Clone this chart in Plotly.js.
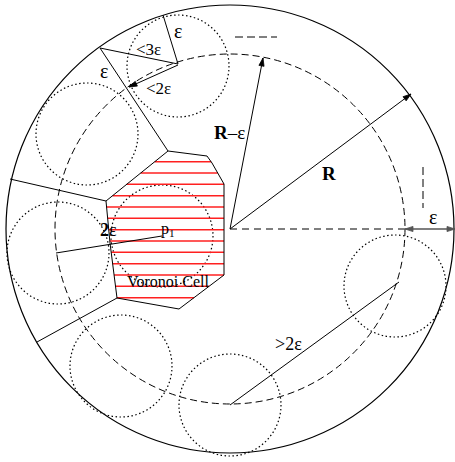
<!DOCTYPE html>
<html>
<head>
<meta charset="utf-8">
<script src="https://cdn.plot.ly/plotly-3.0.1.min.js"></script>
<style>html,body{margin:0;padding:0;background:#fff;}#chart{width:455px;height:462px;}</style>
</head>
<body>
<div id="chart"></div>
<script>
// ---- data (pixel-space diagram coordinates) ----
const center = [230, 229];
const outerR = 224;          // R
const innerR = 175;          // R - eps
const epsR = 51;             // eps discs
const discX = [178, 87, 58, 162, 121, 230, 395];
const discY = [66, 134, 253, 236, 366, 405, 286];
const cellX = [168, 207, 212, 224, 224, 179, 117, 110, 106];
const cellY = [151, 156, 163, 184, 275, 309, 298, 243, 201];
const hatchY = [161.7, 173, 184.3, 195.7, 207, 218.3, 229.7, 241, 252.3, 263.7, 275, 286.3, 297.7];
const edgeX0 = [106, 117, 168, 100, 178, 56, 230];
const edgeY0 = [201, 298, 151, 48, 64, 253, 405];
const edgeX1 = [10, 37, 100, 178, 163, 162, 399];
const edgeY1 = [179, 342, 48, 64, 15, 236, 282];
const arrowTipX = [263, 411, 129];
const arrowTipY = [58, 94, 87];
const arrowTailX = [230, 230, 178];
const arrowTailY = [229, 229, 65];
const shortDashX0 = [235, 423];
const shortDashY0 = [37, 167];
const shortDashX1 = [277, 423];
const shortDashY1 = [37, 208];
const labelText = ['ε', '&lt;3ε', 'ε', '&lt;2ε', '<b>2</b>ε', 'p<sub>1</sub>', 'Voronoi Cell', '<b>R</b>–ε', '<b>R</b>', 'ε', '&gt;2ε'];
const labelX = [178, 148, 103.5, 158.5, 108, 168, 168, 229, 328.5, 432.5, 288];
const labelY = [30.5, 49, 70.5, 88, 229.5, 229, 281, 132.5, 173.5, 217, 343.5];
const labelSize = [20, 17, 20, 17, 18, 16, 16, 19, 19, 20, 18];

const shapes = [];
function arrowHead(tx, ty, fx, fy, color) {
  const dx = tx - fx, dy = ty - fy, L = Math.sqrt(dx*dx + dy*dy);
  const ux = dx / L, uy = dy / L, len = 8, hw = 2.6;
  const bx = tx - ux*len, by = ty - uy*len;
  const p = 'M' + tx + ',' + ty + ' L' + (bx - uy*hw) + ',' + (by + ux*hw) + ' L' + (bx + uy*hw) + ',' + (by - ux*hw) + ' Z';
  shapes.push({type:'path', xref:'x', yref:'y', path:p, line:{color:color, width:0.8}, fillcolor:color});
}
// outer solid circle
shapes.push({type:'circle', xref:'x', yref:'y', x0:center[0]-outerR, x1:center[0]+outerR, y0:center[1]-outerR, y1:center[1]+outerR, line:{color:'#000', width:1.2}});
// dashed R-eps circle
shapes.push({type:'circle', xref:'x', yref:'y', x0:center[0]-innerR, x1:center[0]+innerR, y0:center[1]-innerR, y1:center[1]+innerR, line:{color:'#000', width:1, dash:'7px,4px'}});
// dotted eps discs
for (let i = 0; i < discX.length; i++) {
  shapes.push({type:'circle', xref:'x', yref:'y', x0:discX[i]-epsR, x1:discX[i]+epsR, y0:discY[i]-epsR, y1:discY[i]+epsR, line:{color:'#000', width:1.2, dash:'1.5px,2.5px'}});
}
// hatching clipped to the cell polygon
const n = cellX.length;
hatchY.forEach(function(y){
  const xs = [];
  for (let i = 0; i < n; i++) {
    const xa = cellX[i], ya = cellY[i], xb = cellX[(i+1)%n], yb = cellY[(i+1)%n];
    if ((ya <= y && yb > y) || (yb <= y && ya > y)) {
      xs.push(xa + (y - ya) * (xb - xa) / (yb - ya));
    }
  }
  if (xs.length >= 2) {
    shapes.push({type:'line', xref:'x', yref:'y', x0:Math.min.apply(null, xs), x1:Math.max.apply(null, xs), y0:y, y1:y, line:{color:'#ff2020', width:1.4}});
  }
});
// cell polygon
let path = 'M' + cellX[0] + ',' + cellY[0];
for (let i = 1; i < n; i++) path += ' L' + cellX[i] + ',' + cellY[i];
path += ' Z';
shapes.push({type:'path', xref:'x', yref:'y', path:path, line:{color:'#000', width:1}});
// edges / segments
for (let i = 0; i < edgeX0.length; i++) {
  shapes.push({type:'line', xref:'x', yref:'y', x0:edgeX0[i], y0:edgeY0[i], x1:edgeX1[i], y1:edgeY1[i], line:{color:'#000', width:1}});
}
// gray dashed radius to the R-eps circle
shapes.push({type:'line', xref:'x', yref:'y', x0:center[0], y0:center[1], x1:center[0]+innerR, y1:center[1], line:{color:'#555', width:1.5, dash:'7px,5px'}});
// short dashed marks
for (let i = 0; i < shortDashX0.length; i++) {
  shapes.push({type:'line', xref:'x', yref:'y', x0:shortDashX0[i], y0:shortDashY0[i], x1:shortDashX1[i], y1:shortDashY1[i], line:{color:'#000', width:1, dash:'8px,4px'}});
}
// arrows
for (let i = 0; i < arrowTipX.length; i++) {
  shapes.push({type:'line', xref:'x', yref:'y', x0:arrowTailX[i], y0:arrowTailY[i], x1:arrowTipX[i], y1:arrowTipY[i], line:{color:'#000', width:1}});
  arrowHead(arrowTipX[i], arrowTipY[i], arrowTailX[i], arrowTailY[i], '#000');
}
// eps double arrow
const eA = center[0] + innerR, eB = center[0] + outerR + 1;
shapes.push({type:'line', xref:'x', yref:'y', x0:eA, y0:center[1], x1:eB, y1:center[1], line:{color:'#555', width:1.6}});
arrowHead(eA, center[1], eB, center[1], '#555');
arrowHead(eB, center[1], eA, center[1], '#555');

const annotations = [];
for (let i = 0; i < labelText.length; i++) {
  annotations.push({x:labelX[i], y:labelY[i], xref:'x', yref:'y', text:labelText[i], showarrow:false, xanchor:'center', yanchor:'middle', font:{family:'Liberation Serif, Times New Roman, serif', size:labelSize[i], color:'#000'}});
}

const layout = {
  width:455, height:462,
  margin:{l:0, r:0, t:0, b:0},
  paper_bgcolor:'#fff', plot_bgcolor:'#fff',
  xaxis:{range:[0,455], visible:false, fixedrange:true},
  yaxis:{range:[462,0], visible:false, fixedrange:true},
  showlegend:false,
  shapes:shapes,
  annotations:annotations
};
Plotly.newPlot('chart', [], layout, {displayModeBar:false, staticPlot:true});
</script>
</body>
</html>
